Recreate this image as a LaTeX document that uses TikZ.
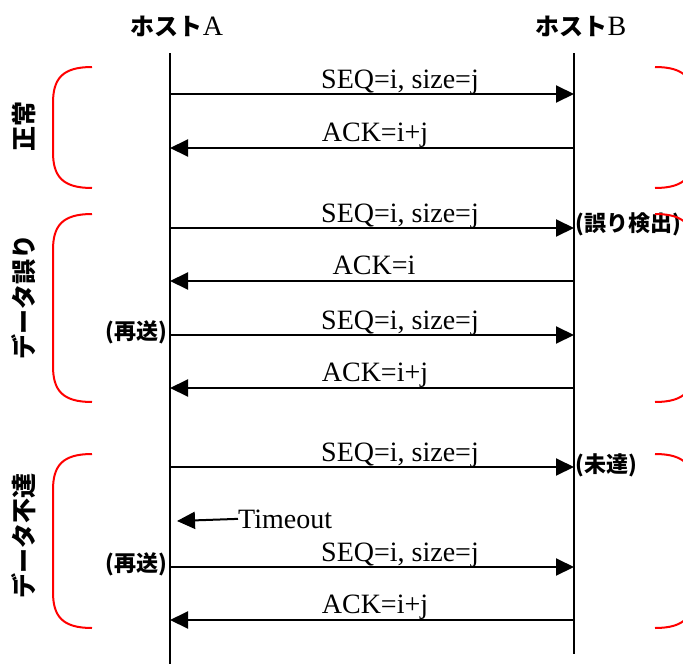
\documentclass[tikz,border=0pt]{standalone}
\usepackage{fontspec}
\setmainfont{Liberation Serif}
\newfontfamily\jp{Noto Sans CJK JP}
\usetikzlibrary{arrows.meta}
\begin{document}
\begin{tikzpicture}[x=1pt,y=-1pt,
 life/.style={line width=2pt},
 msg/.style={line width=2pt,-{Triangle[length=18pt,width=17pt]}},
 lbl/.style={anchor=base,inner sep=0pt,font=\fontsize{28}{30}\selectfont},
 jlbl/.style={inner sep=0pt,font=\jp\bfseries\fontsize{22}{24}\selectfont},
 hdr/.style={anchor=base,inner sep=0pt,font=\fontsize{28}{30}\selectfont},
 brk/.style={red,line width=2pt},
 sec/.style={inner sep=0pt,rotate=90,font=\jp\bfseries\fontsize{25}{27}\selectfont}]
\useasboundingbox (0,0) rectangle (683,664);
\clip (0,0) rectangle (683,664);
% headers
\node[hdr] (hA) at (177,35) {{\jp\bfseries\fontsize{24}{26}\selectfont ホスト}A};
\node[hdr] (hB) at (581,35) {{\jp\bfseries\fontsize{24}{26}\selectfont ホスト}B};
% lifelines
\coordinate (Atop) at (170,53);
\coordinate (Abot) at (170,664);
\coordinate (Btop) at (574,53);
\coordinate (Bbot) at (574,654);
\draw[life] (Atop) -- (Abot);
\draw[life] (Btop) -- (Bbot);
% message coordinates
\foreach \n/\y in {1/94,2/148,3/228,4/281,5/335,6/388,7/467,9/567,10/620}{
  \coordinate (a\n) at (170,\y);
  \coordinate (b\n) at (574,\y);
}
% section 1
\draw[msg] (a1) -- (b1);
\node[lbl] (l1) at (400,88) {SEQ=i, size=j};
\draw[msg] (b2) -- (a2);
\node[lbl] (l2) at (375,141) {ACK=i+j};
% section 2
\draw[msg] (a3) -- (b3);
\node[lbl] (l3) at (400,222) {SEQ=i, size=j};
\node[jlbl,anchor=west] (err) at (575,224) {(誤り検出)};
\draw[msg] (b4) -- (a4);
\node[lbl] (l4) at (374,274) {ACK=i};
\draw[msg] (a5) -- (b5);
\node[lbl] (l5) at (400,329) {SEQ=i, size=j};
\node[jlbl,anchor=east] (re1) at (167,332) {(再送)};
\draw[msg] (b6) -- (a6);
\node[lbl] (l6) at (375,381) {ACK=i+j};
% section 3
\draw[msg] (a7) -- (b7);
\node[lbl] (l7) at (400,461) {SEQ=i, size=j};
\node[jlbl,anchor=west] (lost) at (575,465) {(未達)};
\node[lbl,anchor=base west] (to) at (238,528) {Timeout};
\coordinate (toend) at (177,521);
\draw[msg] (to.west) -- (toend);
\draw[msg] (a9) -- (b9);
\node[lbl] (l9) at (400,561) {SEQ=i, size=j};
\node[jlbl,anchor=east] (re2) at (167,564) {(再送)};
\draw[msg] (b10) -- (a10);
\node[lbl] (l10) at (375,613) {ACK=i+j};
% section labels
\node[sec] (s1) at (24,126) {正常};
\node[sec] (s2) at (24,297) {データ誤り};
\node[sec] (s3) at (24,536) {データ不達};
% brackets
\foreach \t/\b in {67/188,214/402,454/628}{
  \draw[brk] (92,\t) .. controls (62,\t) and (53,\t+12) .. (53,\t+36)
    -- (53,\b-36) .. controls (53,\b-12) and (62,\b) .. (92,\b);
  \draw[brk] (655,\t) .. controls (685,\t) and (694,\t+12) .. (694,\t+36)
    -- (694,\b-36) .. controls (694,\b-12) and (685,\b) .. (655,\b);
}
\end{tikzpicture}
\end{document}
